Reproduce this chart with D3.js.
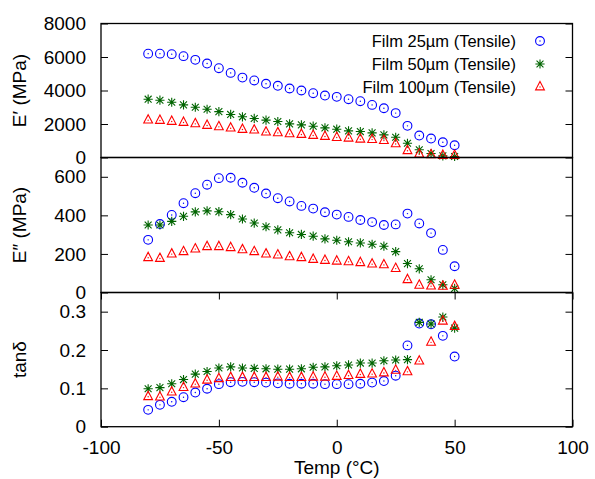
<!DOCTYPE html>
<html>
<head>
<meta charset="utf-8">
<script src="https://cdn.jsdelivr.net/npm/d3@7"></script>
<style>
  body { margin: 0; background: #fff; }
  svg text { font-family: "Liberation Sans", Arial, sans-serif; fill: #000; }
</style>
</head>
<body>
<div id="chart"></div>
<script>
// temperatures (°C)
const temps = [-80, -75, -70, -65, -60, -55, -50, -45, -40, -35, -30, -25, -20, -15, -10, -5, 0, 5, 10, 15, 20, 25, 30, 35, 40, 45, 50];

// storage modulus E' (MPa)
const storage25 = [6200, 6200, 6170, 6050, 5830, 5610, 5330, 5050, 4770, 4600, 4400, 4280, 4120, 4000, 3840, 3700, 3620, 3480, 3360, 3140, 2940, 2650, 1890, 1310, 1130, 910, 730];
const storage50 = [3480, 3420, 3300, 3140, 3000, 2880, 2740, 2570, 2430, 2330, 2230, 2150, 2010, 1950, 1870, 1770, 1690, 1590, 1550, 1470, 1350, 1210, 850, 460, 240, 100, 60];
const storage100 = [2230, 2210, 2150, 2090, 2010, 1910, 1830, 1750, 1670, 1630, 1510, 1470, 1410, 1370, 1310, 1250, 1190, 1150, 1090, 1070, 1010, 810, 400, 200, 160, 120, 120];

// loss modulus E'' (MPa)
const loss25 = [273, 355, 402, 463, 515, 559, 593, 595, 569, 543, 513, 489, 472, 449, 435, 416, 404, 392, 376, 365, 350, 353, 409, 358, 308, 221, 136];
const loss50 = [350, 350, 369, 395, 418, 423, 419, 404, 381, 360, 341, 325, 310, 301, 292, 278, 271, 263, 257, 250, 240, 212, 150, 123, 66, 40, 21];
const loss100 = [180, 176, 199, 211, 225, 237, 237, 232, 221, 211, 199, 194, 185, 180, 171, 166, 162, 159, 154, 147, 143, 124, 66, 37, 33, 32, 37];

// tan delta
const tan25 = [0.044, 0.057, 0.065, 0.077, 0.089, 0.099, 0.111, 0.116, 0.117, 0.116, 0.115, 0.113, 0.112, 0.112, 0.112, 0.111, 0.111, 0.111, 0.112, 0.115, 0.119, 0.133, 0.212, 0.269, 0.267, 0.237, 0.183];
const tan50 = [0.099, 0.102, 0.112, 0.123, 0.137, 0.144, 0.153, 0.156, 0.153, 0.152, 0.151, 0.150, 0.150, 0.151, 0.155, 0.156, 0.159, 0.161, 0.166, 0.166, 0.172, 0.174, 0.175, 0.272, 0.268, 0.286, 0.257];
const tan100 = [0.078, 0.077, 0.090, 0.102, 0.111, 0.121, 0.125, 0.128, 0.128, 0.128, 0.128, 0.129, 0.128, 0.128, 0.129, 0.129, 0.131, 0.133, 0.136, 0.137, 0.140, 0.147, 0.143, 0.171, 0.220, 0.275, 0.261];

const seriesNames = ["Film 25\u00b5m (Tensile)", "Film 50\u00b5m (Tensile)", "Film 100\u00b5m (Tensile)"];

const xTicks = [-100, -50, 0, 50, 100];
const storageTicks = [0, 2000, 4000, 6000, 8000];
const lossTicks = [0, 200, 400, 600];
const tanTicks = [0, 0.1, 0.2, 0.3];

// layout
const W = 595, H = 479;
const left = 101, right = 572.5;
const rows = [23.5, 157.5, 292.5, 426.7];
const tickLen = 7;
const fontSize = "19px";

const svg = d3.select("#chart")
    .append("svg")
    .attr("width", W)
    .attr("height", H);

const x = d3.scaleLinear().domain([-100, 100]).range([left, right]);

// plain hyphen minus like the original
const plain = d => String(d);

const panels = [
    {label: "E\u2032 (MPa)", domain: [0, 8000], ticks: storageTicks, fmt: plain, data: [storage25, storage50, storage100]},
    {label: "E\u2033 (MPa)", domain: [0, 700], ticks: lossTicks, fmt: plain, data: [loss25, loss50, loss100]},
    {label: "tan\u03b4", domain: [0, 0.35], ticks: tanTicks, fmt: d => d === 0 ? "0" : d.toFixed(1), data: [tan25, tan50, tan100]}
];

// marker drawing
const colors = ["#0000ff", "#006400", "#ff0000"];

function drawMarker(g, type, color) {
    if (type === 0) {
        g.append("circle").attr("r", 4.4).attr("fill", "none").attr("stroke", color).attr("stroke-width", 1.1);
        g.append("circle").attr("r", 0.7).attr("fill", color);
    } else if (type === 1) {
        const s = 4.6, d = s * 0.75;
        g.append("path")
            .attr("d", `M${-s},0H${s}M0,${-s}V${s}M${-d},${-d}L${d},${d}M${-d},${d}L${d},${-d}`)
            .attr("stroke", color).attr("stroke-width", 1.1).attr("fill", "none");
    } else {
        const s = 4.4;
        g.append("path")
            .attr("d", `M0,${-s * 1.25}L${s},${s * 0.65}L${-s},${s * 0.65}Z`)
            .attr("stroke", color).attr("stroke-width", 1.1).attr("fill", "none");
        g.append("circle").attr("r", 0.7).attr("fill", color);
    }
}

panels.forEach((p, i) => {
    const top = rows[i], bottom = rows[i + 1];
    const y = d3.scaleLinear().domain(p.domain).range([bottom, top]);

    // left axis with labels
    svg.append("g")
        .attr("transform", `translate(${left},0)`)
        .call(d3.axisLeft(y).tickValues(p.ticks).tickFormat(p.fmt).tickSizeInner(-tickLen).tickSizeOuter(0).tickPadding(15))
        .call(g => g.select(".domain").remove())
        .call(g => g.selectAll("text").style("font-size", fontSize));

    // right axis mirror ticks
    svg.append("g")
        .attr("transform", `translate(${right},0)`)
        .call(d3.axisRight(y).tickValues(p.ticks).tickFormat("").tickSizeInner(-tickLen).tickSizeOuter(0))
        .call(g => g.select(".domain").remove());

    // y label
    svg.append("text")
        .attr("transform", `translate(26,${(top + bottom) / 2}) rotate(-90)`)
        .attr("text-anchor", "middle")
        .style("font-size", fontSize)
        .text(p.label);

    // markers
    p.data.forEach((vals, k) => {
        svg.append("g")
            .selectAll("g")
            .data(temps.map((t, j) => [t, vals[j]]))
            .join("g")
            .attr("transform", d => `translate(${x(d[0])},${y(d[1])})`)
            .each(function () { drawMarker(d3.select(this), k, colors[k]); });
    });

    // frame
    svg.append("rect")
        .attr("x", left).attr("y", top)
        .attr("width", right - left).attr("height", bottom - top)
        .attr("fill", "none").attr("stroke", "#000").attr("stroke-width", 1.3);
});

// x axis on bottom panel
svg.append("g")
    .attr("transform", `translate(0,${rows[3]})`)
    .call(d3.axisBottom(x).tickValues(xTicks).tickFormat(plain).tickSizeInner(-tickLen).tickSizeOuter(0).tickPadding(14))
    .call(g => g.select(".domain").remove())
    .call(g => g.selectAll("text").style("font-size", fontSize));

svg.append("g")
    .attr("transform", `translate(0,${rows[2]})`)
    .call(d3.axisTop(x).tickValues(xTicks).tickFormat("").tickSizeInner(-tickLen).tickSizeOuter(0))
    .call(g => g.select(".domain").remove());

svg.append("text")
    .attr("x", (left + right) / 2)
    .attr("y", 474)
    .attr("text-anchor", "middle")
    .style("font-size", fontSize)
    .text("Temp (\u00b0C)");

// legend
const legend = svg.append("g");
seriesNames.forEach((name, k) => {
    const ly = 41 + k * 23;
    legend.append("text")
        .attr("x", 516).attr("y", ly)
        .attr("dy", "0.35em")
        .attr("text-anchor", "end")
        .style("font-size", "16.5px")
        .text(name);
    const m = legend.append("g").attr("transform", `translate(540,${ly})`);
    drawMarker(m, k, colors[k]);
});
</script>
</body>
</html>
